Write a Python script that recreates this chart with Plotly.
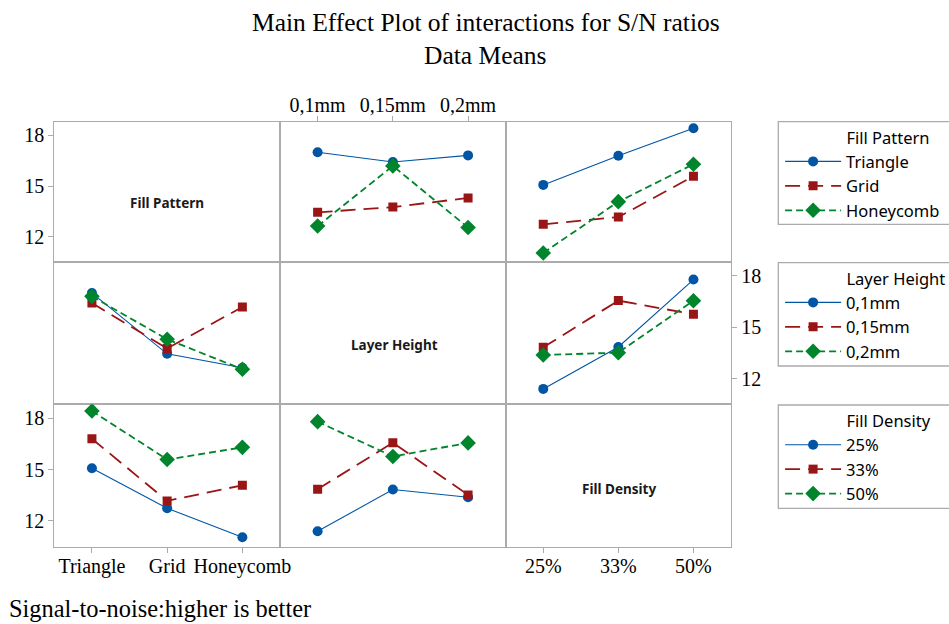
import plotly.graph_objects as go

# ---------------- data (S/N ratio means) ----------------
fill_patterns = ["Triangle", "Grid", "Honeycomb"]
layer_heights = ["0,1mm", "0,15mm", "0,2mm"]
fill_densities = ["25%", "33%", "50%"]
y_ticks = [12, 15, 18]

# Fill pattern series across layer height
triangle_by_lh = [17.00, 16.42, 16.81]
grid_by_lh = [13.45, 13.76, 14.30]
honeycomb_by_lh = [12.64, 16.19, 12.55]

# Fill pattern series across fill density
triangle_by_fd = [15.07, 16.79, 18.41]
grid_by_fd = [12.74, 13.17, 15.58]
honeycomb_by_fd = [11.05, 14.08, 16.29]

# Layer height series across fill density
lh01_by_fd = [11.40, 13.85, 17.79]
lh015_by_fd = [13.83, 16.56, 15.76]
lh02_by_fd = [13.38, 13.52, 16.55]

fp_by_lh = [triangle_by_lh, grid_by_lh, honeycomb_by_lh]
fp_by_fd = [triangle_by_fd, grid_by_fd, honeycomb_by_fd]
lh_by_fd = [lh01_by_fd, lh015_by_fd, lh02_by_fd]

# ---------------- styling ----------------
W, H = 949, 624
colors = ["#0055a5", "#9a1616", "#00852c"]
symbols = ["circle", "square", "diamond"]
msizes = [10, 9, 12]
dashes = ["solid", "15px,8px", "7px,4px"]
lwidths = [1.1, 1.8, 1.8]
GRID = "#ababab"
SERIF = "Liberation Serif"
SANS = "Noto Sans"

col_px = [(54.3, 280.0), (280.0, 505.7), (505.7, 731.0)]
row_px = [(121.7, 262.3), (262.3, 404.3), (404.3, 546.7)]
cats = [fill_patterns, layer_heights, fill_densities]
YR = [10.5, 18.8]

fig = go.Figure()


def k(r, c):
    return r * 3 + c + 1


def add_series(r, c, x, ys, names, legend, show):
    for i, (y, nm) in enumerate(zip(ys, names)):
        fig.add_trace(go.Scatter(
            x=x, y=y, name=nm, mode="lines+markers",
            xaxis="x%d" % k(r, c), yaxis="y%d" % k(r, c),
            line=dict(color=colors[i], width=lwidths[i], dash=dashes[i]),
            marker=dict(color=colors[i], symbol=symbols[i], size=msizes[i]),
            legend=legend, legendgroup=legend + nm, showlegend=show,
            hoverinfo="x+y+name",
        ))


# Row 1: series = Fill Pattern
add_series(0, 1, layer_heights, fp_by_lh, fill_patterns, "legend", True)
add_series(0, 2, fill_densities, fp_by_fd, fill_patterns, "legend", False)
# Row 2: series = Layer Height
add_series(1, 0, fill_patterns, [[fp_by_lh[f][j] for f in range(3)] for j in range(3)],
           layer_heights, "legend2", True)
add_series(1, 2, fill_densities, lh_by_fd, layer_heights, "legend2", False)
# Row 3: series = Fill Density
add_series(2, 0, fill_patterns, [[fp_by_fd[f][j] for f in range(3)] for j in range(3)],
           fill_densities, "legend3", True)
add_series(2, 1, layer_heights, [[lh_by_fd[l][j] for l in range(3)] for j in range(3)],
           fill_densities, "legend3", False)

# empty diagonal cells (factor name cells) still need their frames / axes
for d in range(3):
    fig.add_trace(go.Scatter(
        x=cats[d], y=[None] * 3, mode="markers", showlegend=False,
        hoverinfo="skip", xaxis="x%d" % k(d, d), yaxis="y%d" % k(d, d),
    ))

tickfont = dict(family=SERIF, size=20, color="black")
layout_axes = {}
x_ticks_on = {(0, 1): "top", (2, 0): "bottom", (2, 2): "bottom"}
y_ticks_on = {(0, 0): "left", (1, 2): "right", (2, 0): "left"}
for r in range(3):
    for c in range(3):
        n = k(r, c)
        xa = dict(
            domain=[col_px[c][0] / W, col_px[c][1] / W], anchor="y%d" % n,
            type="category", categoryorder="array", categoryarray=cats[c],
            range=[-0.5, 2.5], showgrid=False, zeroline=False,
            showline=True, mirror=True, linecolor=GRID, linewidth=1.3,
            fixedrange=True,
        )
        if (r, c) in x_ticks_on:
            xa.update(side=x_ticks_on[(r, c)], ticks="outside", ticklen=5,
                      tickcolor=GRID, showticklabels=True, tickfont=tickfont,
                      ticklabelstandoff=-4)
        else:
            xa.update(ticks="", showticklabels=False)
        ya = dict(
            domain=[1 - row_px[r][1] / H, 1 - row_px[r][0] / H], anchor="x%d" % n,
            range=YR, showgrid=False, zeroline=False,
            showline=True, mirror=True, linecolor=GRID, linewidth=1.3,
            tickvals=y_ticks, fixedrange=True,
        )
        if (r, c) in y_ticks_on:
            ya.update(side=y_ticks_on[(r, c)], ticks="outside", ticklen=5,
                      tickcolor=GRID, showticklabels=True, tickfont=tickfont)
        else:
            ya.update(ticks="", showticklabels=False)
        layout_axes["xaxis%d" % n if n > 1 else "xaxis"] = xa
        layout_axes["yaxis%d" % n if n > 1 else "yaxis"] = ya

fig.update_layout(**layout_axes)

annotations = [
    dict(text="Main Effect Plot of interactions for S/N ratios", x=486.5 / W, y=1 - 23 / H,
         font=dict(family=SERIF, size=25.5, color="black")),
    dict(text="Data Means", x=485.5 / W, y=1 - 55.5 / H,
         font=dict(family=SERIF, size=25.5, color="black")),
    dict(text="Signal-to-noise:higher is better", x=7 / W, y=1 - 608.5 / H, xanchor="left",
         font=dict(family=SERIF, size=24.4, color="black")),
    dict(text="<b>Fill Pattern</b>", x=167 / W, y=1 - 203 / H,
         font=dict(family=SANS, size=13.5, color="#1a1a1a")),
    dict(text="<b>Layer Height</b>", x=394 / W, y=1 - 345 / H,
         font=dict(family=SANS, size=13.5, color="#1a1a1a")),
    dict(text="<b>Fill Density</b>", x=619 / W, y=1 - 488.5 / H,
         font=dict(family=SANS, size=13.5, color="#1a1a1a")),
]
for a in annotations:
    a.update(xref="paper", yref="paper", showarrow=False, yanchor="middle",
             xanchor=a.get("xanchor", "center"))
fig.update_layout(annotations=annotations)

lead = "\u00a0" * 15
LEG_X = 778.3
legend_frames = [(121.7, 224.3), (262.7, 366.0), (405.0, 508.3)]


def legend_cfg(title, top_px):
    return dict(
        title=dict(text=lead + title, font=dict(family=SANS, size=16.5, color="black")),
        x=(LEG_X + 1.8) / W, y=1 - (top_px + 1.0) / H, xanchor="left", yanchor="top",
        bgcolor="rgba(0,0,0,0)", borderwidth=0,
        font=dict(family=SANS, size=16.5, color="black"),
        itemwidth=56, tracegroupgap=0, traceorder="grouped",
        itemclick=False, itemdoubleclick=False,
    )


# legend frames run off the right edge of the figure, as in the reference
shapes = [
    dict(type="rect", xref="paper", yref="paper",
         x0=LEG_X / W, x1=1.05, y0=1 - b / H, y1=1 - t / H,
         line=dict(color=GRID, width=1.3), fillcolor="white", layer="below")
    for t, b in legend_frames
]

fig.update_layout(
    width=W, height=H,
    margin=dict(l=0, r=0, t=0, b=0, autoexpand=False),
    paper_bgcolor="white", plot_bgcolor="white",
    shapes=shapes,
    legend=legend_cfg("Fill Pattern", legend_frames[0][0]),
    legend2=legend_cfg("Layer Height", legend_frames[1][0]),
    legend3=legend_cfg("Fill Density", legend_frames[2][0]),
    font=dict(family=SANS, color="black"),
)

fig.write_html(
    "out.html",
    config={"displayModeBar": False},
    post_script="document.body.style.margin='0px';document.body.style.overflow='hidden';",
)
